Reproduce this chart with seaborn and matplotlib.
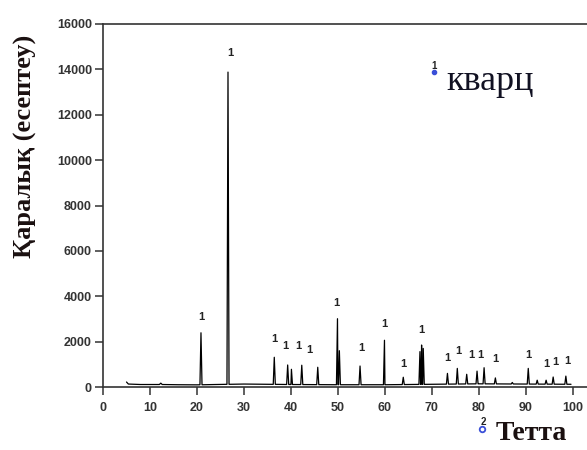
import numpy as np
import pandas as pd
import matplotlib
matplotlib.use("Agg")
import matplotlib.pyplot as plt
import seaborn as sns
from matplotlib.ticker import MultipleLocator

# Peak positions (2θ) and heights (counts)
peak_pos = [20.85, 26.6, 36.45, 39.3, 40.1, 42.3, 45.7, 49.9, 50.3, 54.7, 59.9,
            63.9, 67.45, 67.8, 68.15, 73.3, 75.4, 77.4, 79.6, 81.1, 83.5, 87.1,
            90.5, 92.4, 94.3, 95.8, 98.5]
peak_int = [2390, 13880, 1310, 970, 780, 960, 870, 3010, 1600, 925, 2060,
            430, 1560, 1850, 1700, 600, 820, 560, 700, 850, 400, 200,
            820, 300, 300, 440, 480]

# Background knots (2θ, counts)
bg_pos = [5.0, 5.4, 8.0, 12.0, 12.3, 12.6, 16.0, 20.0, 24.0, 30.0, 40.0, 50.0,
          60.0, 70.0, 80.0, 90.0, 99.6]
bg_int = [220, 130, 110, 110, 170, 110, 100, 95, 110, 130, 110, 100,
          100, 120, 140, 130, 120]

# Phase labels "1" (2θ, counts)
lab_pos = [20.85, 27.0, 36.4, 38.9, 41.5, 44.0, 49.7, 55.0, 59.9, 63.9, 67.8,
           73.3, 75.7, 78.3, 80.2, 83.4, 90.5, 94.4, 96.2, 98.9]
lab_int = [3080, 14720, 2100, 1800, 1800, 1630, 3690, 1730, 2780, 1000, 2510,
           1260, 1590, 1410, 1400, 1220, 1410, 1010, 1120, 1150]

x_ticks = [0, 10, 20, 30, 40, 50, 60, 70, 80, 90, 100]
y_ticks = [0, 2000, 4000, 6000, 8000, 10000, 12000, 14000, 16000]

# build pattern polyline from peaks and background
half_w = 0.22
xs = list(bg_pos)
ys = list(bg_int)
for p, h in zip(peak_pos, peak_int):
    b = np.interp(p, bg_pos, bg_int)
    xs += [p - half_w, p, p + half_w]
    ys += [b, h, b]
df = pd.DataFrame({"x": xs, "y": ys}).sort_values("x").reset_index(drop=True)

sns.set_style("white")
fig = plt.figure(figsize=(5.87, 4.5), dpi=100)
ax = fig.add_axes([103 / 587, 63 / 450, 1 - 103 / 587, (387 - 24) / 450])

sns.lineplot(data=df, x="x", y="y", ax=ax, color="black", linewidth=0.9,
             estimator=None, sort=True)

ax.set_xlim(0, 103)
ax.set_ylim(0, 16000)
ax.set_xticks(x_ticks)
ax.set_yticks(y_ticks)
ax.xaxis.set_minor_locator(MultipleLocator(5))
ax.yaxis.set_minor_locator(MultipleLocator(1000))
ax.tick_params(which="both", direction="out", color="#333333", width=1.1,
               labelsize=9, labelcolor="#333333")
ax.tick_params(which="major", length=6)
ax.tick_params(which="minor", length=4)
ax.tick_params(axis="x", bottom=True, pad=5)
ax.tick_params(axis="y", left=True, pad=2)
for lab in ax.get_xticklabels() + ax.get_yticklabels():
    lab.set_fontweight("bold")
    lab.set_family("Liberation Sans")
for s in ["left", "bottom", "top"]:
    ax.spines[s].set_color("#333333")
    ax.spines[s].set_linewidth(1.2)
ax.spines["right"].set_visible(False)
ax.set_xlabel("")
ax.set_ylabel("")

for lx, ly in zip(lab_pos, lab_int):
    ax.text(lx, ly, "1", ha="center", va="center", fontsize=8,
            fontweight="bold", family="Liberation Sans", color="#222222")

# y axis title
fig.text(25 / 587, 1 - 146 / 450, "Қаралық (есептеу)", rotation=90,
         ha="center", va="center", fontsize=19, fontweight="bold",
         family="Liberation Serif", color="#1a1010")

# legend-like annotation
fig.text(434 / 587, 1 - 66 / 450, "1", ha="center", va="center", fontsize=7,
         fontweight="bold", family="Liberation Sans", color="#222222")
fig.lines.append(plt.Line2D([434 / 587], [1 - 72 / 450], marker="o",
                            markersize=3, color="#3a4fd8",
                            transform=fig.transFigure, linestyle="none"))
fig.text(446 / 587, 1 - 81 / 450, "кварц", ha="left", va="center",
         fontsize=26, family="Liberation Serif", color="#111122")

fig.text(483 / 587, 1 - 422 / 450, "2", ha="center", va="center", fontsize=7,
         fontweight="bold", family="Liberation Sans", color="#222222")
fig.lines.append(plt.Line2D([482 / 587], [1 - 429 / 450], marker="o",
                            markersize=4, markerfacecolor="white",
                            markeredgecolor="#3a4fd8", markeredgewidth=1.3,
                            transform=fig.transFigure, linestyle="none"))
fig.text(496 / 587, 1 - 434 / 450, "Тетта", ha="left", va="center",
         fontsize=20, fontweight="bold", family="Liberation Serif",
         color="#1a1010")

fig.savefig("out.png", dpi=100)
